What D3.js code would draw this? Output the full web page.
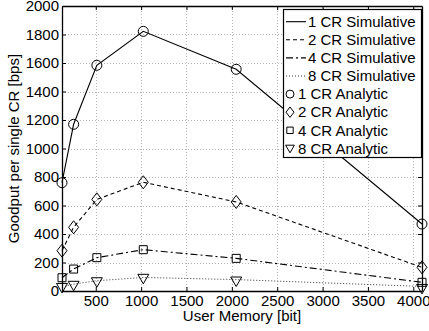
<!DOCTYPE html>
<html>
<head>
<meta charset="utf-8">
<script src="https://cdn.jsdelivr.net/npm/d3@7"></script>
<style>
  body { margin: 0; background: #fff; }
  svg { display: block; }
  text { font-family: "Liberation Sans", Arial, sans-serif; fill: #000; }
</style>
</head>
<body>
<div id="chart"></div>
<script>
// user memory in bits
var memory = [128, 256, 512, 1024, 2048, 4096];

// simulative goodput per CR [bps]
var sim1 = [760, 1170, 1584, 1822, 1556, 470];
var sim2 = [283, 447, 643, 763, 625, 166];
var sim4 = [93, 154, 234, 290, 229, 61];
var sim8 = [28, 48, 72, 95, 80, 32];

// analytic goodput per CR [bps]
var ana1 = [760, 1170, 1584, 1822, 1556, 470];
var ana2 = [283, 447, 643, 763, 625, 166];
var ana4 = [93, 154, 234, 290, 229, 61];
var ana8 = [25, 40, 65, 89, 70, 18];

var xTicks = [500, 1000, 1500, 2000, 2500, 3000, 3500, 4000];
var yTicks = [0, 200, 400, 600, 800, 1000, 1200, 1400, 1600, 1800, 2000];

var simLabels = ['1 CR Simulative', '2 CR Simulative', '4 CR Simulative', '8 CR Simulative'];
var anaLabels = ['1 CR Analytic', '2 CR Analytic', '4 CR Analytic', '8 CR Analytic'];

var W = 429, H = 331;
var margin = { left: 62, right: 7, top: 6, bottom: 40 };
var FONT = 15;

var svg = d3.select('#chart').append('svg')
  .attr('width', W)
  .attr('height', H);

var x = d3.scaleLinear()
  .domain([128, 4096])
  .range([margin.left, W - margin.right]);

var y = d3.scaleLinear()
  .domain([0, 2000])
  .range([H - margin.bottom, margin.top]);

var x0 = x.range()[0], x1 = x.range()[1];
var y0 = y.range()[0], y1 = y.range()[1];

// grid
var grid = svg.append('g')
  .attr('stroke', '#b4b4b4')
  .attr('stroke-width', 1)
  .attr('stroke-dasharray', '1,2');

grid.selectAll('line.gx')
  .data(xTicks)
  .enter().append('line')
  .attr('class', 'gx')
  .attr('x1', function(d) { return Math.round(x(d)) + 0.5; })
  .attr('x2', function(d) { return Math.round(x(d)) + 0.5; })
  .attr('y1', y0)
  .attr('y2', y1);

grid.selectAll('line.gy')
  .data(yTicks.slice(1, -1))
  .enter().append('line')
  .attr('class', 'gy')
  .attr('y1', function(d) { return Math.round(y(d)) + 0.5; })
  .attr('y2', function(d) { return Math.round(y(d)) + 0.5; })
  .attr('x1', x0)
  .attr('x2', x1);

// line series
var series = [
  { vals: sim1, dash: null, color: '#000', width: 1.1 },
  { vals: sim2, dash: '4,3', color: '#000', width: 1.1 },
  { vals: sim4, dash: '7,3,2,3', color: '#000', width: 1.1 },
  { vals: sim8, dash: '1,2', color: '#333', width: 1 }
];

var line = d3.line()
  .x(function(d) { return x(d[0]); })
  .y(function(d) { return y(d[1]); });

series.forEach(function(s) {
  svg.append('path')
    .datum(d3.zip(memory, s.vals))
    .attr('d', line)
    .attr('fill', 'none')
    .attr('stroke', s.color)
    .attr('stroke-width', s.width)
    .attr('stroke-dasharray', s.dash);
});

// marker shapes, k scales them down for the legend
function markerPath(kind, k) {
  k = k || 1;
  if (kind === 'circle') return d3.symbol().type(d3.symbolCircle).size(Math.PI * 25 * k * k)();
  var pts;
  if (kind === 'diamond') pts = [[0, -6.5], [5, 0], [0, 6.5], [-5, 0]];
  else if (kind === 'square') pts = [[-4, -4], [4, -4], [4, 4], [-4, 4]];
  else pts = [[-5.5, -4], [5.5, -4], [0, 5.5]];
  return 'M' + pts.map(function(p) { return (p[0] * k) + ',' + (p[1] * k); }).join('L') + 'Z';
}

var analytic = [
  { vals: ana1, kind: 'circle' },
  { vals: ana2, kind: 'diamond' },
  { vals: ana4, kind: 'square' },
  { vals: ana8, kind: 'triangle' }
];

analytic.forEach(function(s) {
  svg.append('g').selectAll('path')
    .data(d3.zip(memory, s.vals))
    .enter().append('path')
    .attr('d', markerPath(s.kind))
    .attr('transform', function(d) { return 'translate(' + x(d[0]) + ',' + y(d[1]) + ')'; })
    .attr('fill', 'none')
    .attr('stroke', '#000')
    .attr('stroke-width', 1);
});

// axes, box style with inward ticks
var fmt = d3.format('d');

var xAxis = svg.append('g')
  .attr('transform', 'translate(0,' + y0 + ')')
  .call(d3.axisBottom(x).tickValues(xTicks).tickSize(-4).tickSizeOuter(0).tickPadding(8).tickFormat(fmt));

svg.append('g')
  .attr('transform', 'translate(' + x0 + ',0)')
  .call(d3.axisLeft(y).tickValues(yTicks).tickSize(-4).tickSizeOuter(0).tickPadding(3).tickFormat(fmt));

svg.append('g')
  .attr('transform', 'translate(0,' + y1 + ')')
  .call(d3.axisTop(x).tickValues(xTicks).tickSize(-4).tickSizeOuter(0).tickFormat(''));

svg.append('g')
  .attr('transform', 'translate(' + x1 + ',0)')
  .call(d3.axisRight(y).tickValues(yTicks).tickSize(-4).tickSizeOuter(0).tickFormat(''));

svg.selectAll('.domain').attr('stroke', '#000').attr('stroke-width', 1.3);
svg.selectAll('.tick line').attr('stroke', '#000');
svg.selectAll('.tick text')
  .style('font-family', '"Liberation Sans", Arial, sans-serif')
  .style('font-size', FONT + 'px')
  .attr('fill', '#000');

xAxis.selectAll('.tick text').attr('dy', '0.45em');

// axis titles
svg.append('text')
  .attr('x', (x0 + x1) / 2)
  .attr('y', 321)
  .attr('text-anchor', 'middle')
  .style('font-size', FONT + 'px')
  .text('User Memory [bit]');

svg.append('text')
  .attr('transform', 'translate(19,' + ((y0 + y1) / 2) + ') rotate(-90)')
  .attr('text-anchor', 'middle')
  .style('font-size', FONT + 'px')
  .text('Goodput per single CR [bps]');

// legend
var lg = svg.append('g');
var lgLeft = 283, lgTop = 9, lgW = 138, lgH = 148, rowH = 18.1;

lg.append('rect')
  .attr('x', lgLeft + 0.5)
  .attr('y', lgTop + 0.5)
  .attr('width', lgW)
  .attr('height', lgH)
  .attr('fill', '#fff')
  .attr('stroke', '#000')
  .attr('stroke-width', 1.2);

simLabels.forEach(function(lbl, i) {
  var cy = lgTop + 12.7 + i * rowH;
  lg.append('line')
    .attr('x1', lgLeft + 3)
    .attr('x2', lgLeft + 23)
    .attr('y1', cy)
    .attr('y2', cy)
    .attr('stroke', series[i].color)
    .attr('stroke-width', series[i].width)
    .attr('stroke-dasharray', series[i].dash);
  lg.append('text')
    .attr('x', lgLeft + 25)
    .attr('y', cy)
    .attr('dy', '0.35em')
    .style('font-size', FONT + 'px')
    .text(lbl);
});

anaLabels.forEach(function(lbl, i) {
  var cy = lgTop + 12.7 + (i + 4) * rowH;
  lg.append('path')
    .attr('d', markerPath(analytic[i].kind, 0.8))
    .attr('transform', 'translate(' + (lgLeft + 7) + ',' + cy + ')')
    .attr('fill', 'none')
    .attr('stroke', '#000');
  lg.append('text')
    .attr('x', lgLeft + 15)
    .attr('y', cy)
    .attr('dy', '0.35em')
    .style('font-size', FONT + 'px')
    .text(lbl);
});
</script>
</body>
</html>
